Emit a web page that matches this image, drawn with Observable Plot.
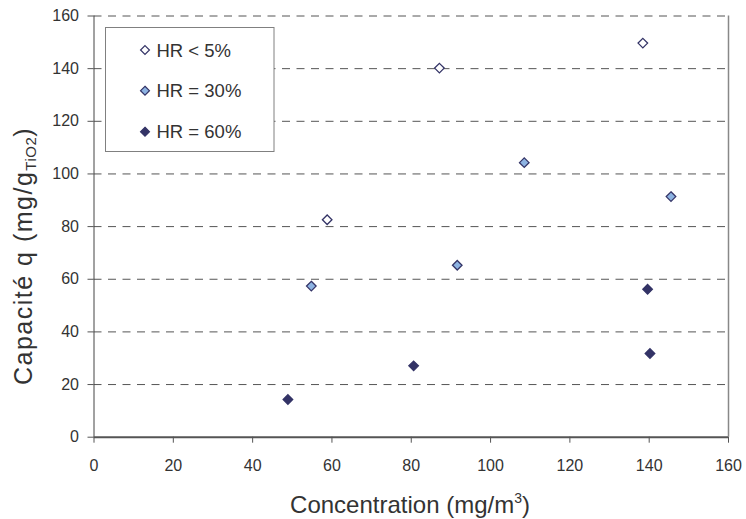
<!DOCTYPE html>
<html>
<head>
<meta charset="utf-8">
<script src="https://cdn.jsdelivr.net/npm/d3@7"></script>
<script src="https://cdn.jsdelivr.net/npm/@observablehq/plot@0.6"></script>
<style>
  html, body { margin: 0; padding: 0; background: #fff; }
  #chart { width: 746px; height: 519px; }
</style>
</head>
<body>
<div id="chart"></div>
<script>
// ---- data ----
const seriesNames = ["HR < 5%", "HR = 30%", "HR = 60%"];
const concLow = [58.8, 87.1, 138.4];
const qLow    = [82.6, 140.2, 149.7];
const conc30  = [54.8, 91.6, 108.5, 145.5];
const q30     = [57.4, 65.3, 104.3, 91.4];
const conc60  = [48.9, 80.6, 139.6, 140.2];
const q60     = [14.3, 27.1, 56.2, 31.8];
const xTicks  = [0, 20, 40, 60, 80, 100, 120, 140, 160];
const yTicks  = [0, 20, 40, 60, 80, 100, 120, 140, 160];

const fills   = ["#ffffff", "#8db3e2", "#333366"];
const strokeC = "#333366";

const rows = [];
[[concLow, qLow], [conc30, q30], [conc60, q60]].forEach(([xs, ys], i) => {
  xs.forEach((x, j) => rows.push({series: seriesNames[i], conc: x, q: ys[j]}));
});

const font = "'Liberation Sans', Arial, Helvetica, sans-serif";

const plot = Plot.plot({
  width: 746,
  height: 519,
  marginLeft: 93.5,
  marginRight: 18,
  marginTop: 15.5,
  marginBottom: 82.3,
  style: {fontFamily: font, fontSize: "16px", color: "#333", background: "#fff", overflow: "visible"},
  x: {domain: [0, 160]},
  y: {domain: [0, 160]},
  color: {domain: seriesNames, range: fills},
  marks: [
    Plot.ruleY(yTicks.filter(d => d > 0), {stroke: "#555", strokeWidth: 1, strokeDasharray: "8,6.5"}),
    Plot.ruleX([160], {stroke: "#888", strokeWidth: 1.5}),
    Plot.ruleX([0], {stroke: "#444", strokeWidth: 1}),
    Plot.ruleY([0], {stroke: "#555", strokeWidth: 2}),
    Plot.axisX({ticks: xTicks, tickSize: 6, tickPadding: 16, label: null, tickFormat: d => String(d), stroke: "#555"}),
    Plot.axisY({ticks: yTicks, tickSize: 6, tickPadding: 9, label: null, tickFormat: d => String(d), stroke: "#555"}),
    Plot.dot(rows, {x: "conc", y: "q", symbol: "diamond2", r: 4.3, fill: "series", stroke: strokeC, strokeWidth: 1.3})
  ]
});

document.getElementById("chart").appendChild(plot);

// ---- titles and legend ----
const svg = d3.select(plot);

// x title
const xt = svg.append("text")
  .attr("x", 410).attr("y", 513)
  .attr("text-anchor", "middle")
  .attr("font-family", font).attr("font-size", 24).attr("fill", "#333");
xt.append("tspan").text("Concentration (mg/m");
xt.append("tspan").attr("font-size", 14).attr("dy", -10).text("3");
xt.append("tspan").attr("dy", 10).text(")");

// y title
const yt = svg.append("text")
  .attr("transform", "translate(32,385) rotate(-90)")
  .attr("text-anchor", "start")
  .attr("font-family", font).attr("font-size", 25).attr("fill", "#333")
  .attr("letter-spacing", 1.5);
yt.append("tspan").text("Capacité q (mg/g");
yt.append("tspan").attr("font-size", 15).attr("dy", 4).attr("letter-spacing", 0.5).text("TiO2");
yt.append("tspan").attr("dy", -4).text(")");

// legend
const lg = svg.append("g");
lg.append("rect")
  .attr("x", 105.5).attr("y", 27.5).attr("width", 168.5).attr("height", 124)
  .attr("fill", "#fff").attr("stroke", "#808080").attr("stroke-width", 1);
const legendY = [50, 90.7, 131.7];
seriesNames.forEach((name, i) => {
  lg.append("path")
    .attr("d", d3.symbol(d3.symbolDiamond2, 4 * 4 * Math.PI)())
    .attr("transform", `translate(145,${legendY[i]})`)
    .attr("fill", fills[i]).attr("stroke", strokeC).attr("stroke-width", 1.2);
  lg.append("text")
    .attr("x", 156.5).attr("y", legendY[i] + 6.7)
    .attr("text-anchor", "start")
    .attr("font-family", font).attr("font-size", 18.5).attr("fill", "#333")
    .text(name);
});
</script>
</body>
</html>
